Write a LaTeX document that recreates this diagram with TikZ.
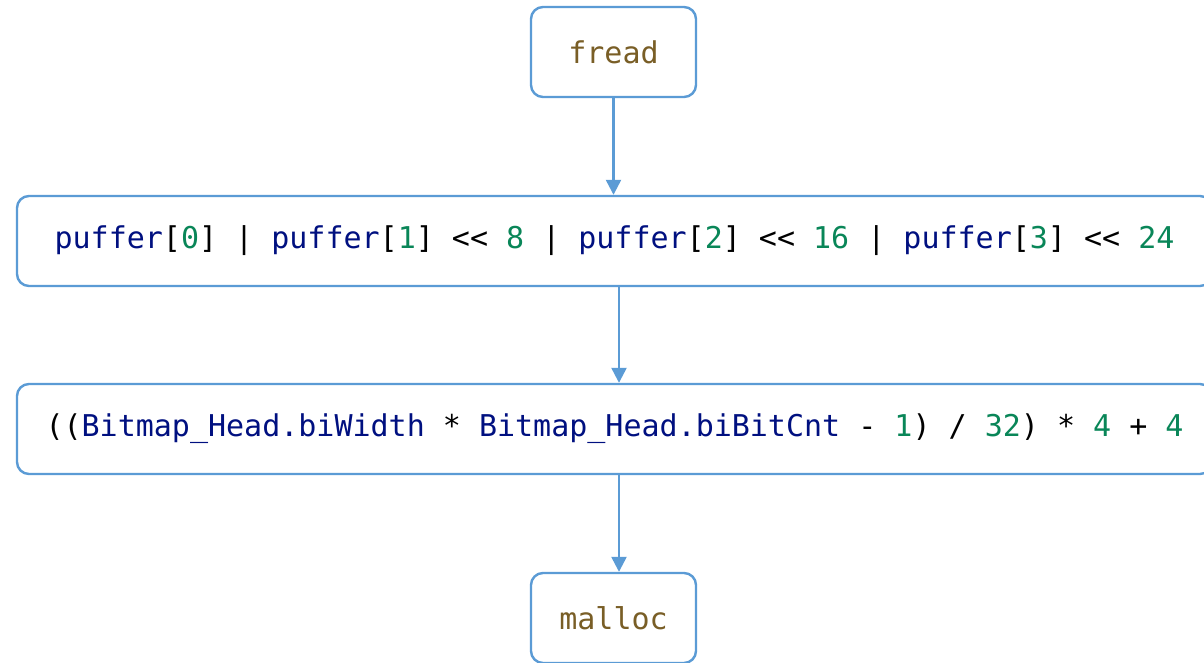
\documentclass[tikz,border=0pt]{standalone}
\usepackage{fontspec}
\setmonofont{DejaVu Sans Mono}
\usetikzlibrary{arrows.meta}
\definecolor{edgeblue}{HTML}{5B9BD5}
\definecolor{idblue}{HTML}{001080}
\definecolor{numgreen}{HTML}{098658}
\definecolor{fnbrown}{HTML}{795E26}
\newcommand{\idt}[1]{\textcolor{idblue}{#1}}
\newcommand{\nmb}[1]{\textcolor{numgreen}{#1}}
\begin{document}
\begin{tikzpicture}[x=1pt,y=-1pt,
  box/.style={draw=edgeblue, line width=2.4pt, rounded corners=12pt, fill=white,
    font=\ttfamily\fontsize{30}{36}\selectfont, inner sep=0pt},
  small/.style={box, minimum width=165pt, minimum height=90pt},
  wide/.style={box, minimum width=1195pt, minimum height=90pt},
  arr/.style={draw=edgeblue, line width=2.4pt, -{Triangle[length=15pt,width=15pt]}}]
\clip (0,0) rectangle (1204,663);
\useasboundingbox (0,0) rectangle (1204,663);
\node[small] (fread) at (613.5,52) {\textcolor{fnbrown}{fread}};
\node[wide] (puffer) at (614.5,241) {\idt{puffer}[\nmb{0}] | \idt{puffer}[\nmb{1}] <{}< \nmb{8} | \idt{puffer}[\nmb{2}] <{}< \nmb{16} | \idt{puffer}[\nmb{3}] <{}< \nmb{24}};
\node[wide] (bitmap) at (614.5,429) {((\idt{Bitmap\_Head.biWidth} * \idt{Bitmap\_Head.biBitCnt} - \nmb{1}) / \nmb{32}) * \nmb{4} + \nmb{4}};
\node[small] (malloc) at (613.5,618) {\textcolor{fnbrown}{malloc}};
\draw[arr] (fread.south) -- (fread.south |- puffer.north);
\draw[arr] ([xshift=4.5pt]puffer.south) -- ([xshift=4.5pt]bitmap.north);
\draw[arr] ([xshift=4.5pt]bitmap.south) -- ([xshift=4.5pt]bitmap.south |- malloc.north);
\end{tikzpicture}
\end{document}
